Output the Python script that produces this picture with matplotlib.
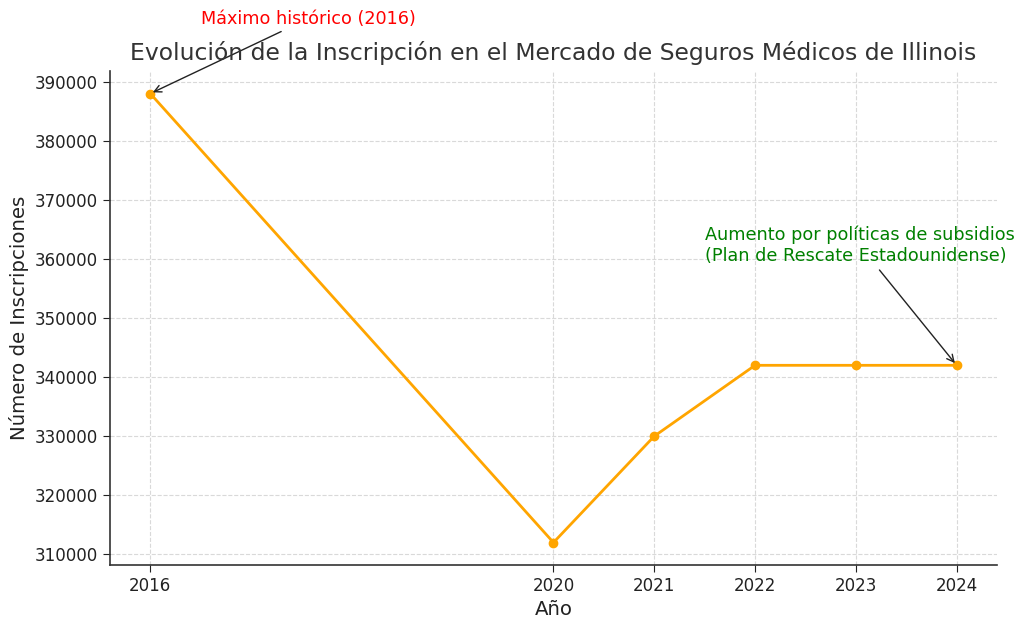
import matplotlib
matplotlib.use("Agg")
import matplotlib.pyplot as plt

plt.rcParams["font.family"] = ["DejaVu Sans"]

years = [2016, 2020, 2021, 2022, 2023, 2024]
enrollment = [388000, 312000, 330000, 342000, 342000, 342000]

fig = plt.figure(figsize=(10.24, 6.24), dpi=100)
ax = fig.add_axes([0.1074, 0.0946, 0.8662, 0.7914])

ax.plot(years, enrollment, color="#FFA500", marker="o", linewidth=2, markersize=6)

ax.set_xticks(years)
ax.set_xticklabels([str(y) for y in years])
ax.tick_params(axis="both", labelsize=12, colors="#222222", length=5)
ax.grid(True, linestyle="--", color="#d9d9d9", linewidth=0.8)
ax.spines["top"].set_visible(False)
ax.spines["right"].set_visible(False)
for s in ("left", "bottom"):
    ax.spines[s].set_color("#333333")
    ax.spines[s].set_linewidth(1.2)

ax.set_title("Evolución de la Inscripción en el Mercado de Seguros Médicos de Illinois",
             fontsize=16.9, color="#333333", pad=8)
ax.set_xlabel("Año", fontsize=14.2, color="#222222")
ax.set_ylabel("Número de Inscripciones", fontsize=14.2, color="#222222")

ax.annotate("Máximo histórico (2016)", xy=(2016, 388000), xytext=(2017.57, 400700),
            fontsize=12.7, color="red", ha="center", va="center",
            arrowprops=dict(arrowstyle="->", color="#222222", lw=1),
            annotation_clip=False)
ax.annotate("Aumento por políticas de subsidios\n(Plan de Rescate Estadounidense)",
            xy=(2024, 342000), xytext=(2021.5, 362300),
            fontsize=12.7, color="green", ha="left", va="center",
            arrowprops=dict(arrowstyle="->", color="#222222", lw=1),
            annotation_clip=False)

fig.savefig("out.png", dpi=100)
